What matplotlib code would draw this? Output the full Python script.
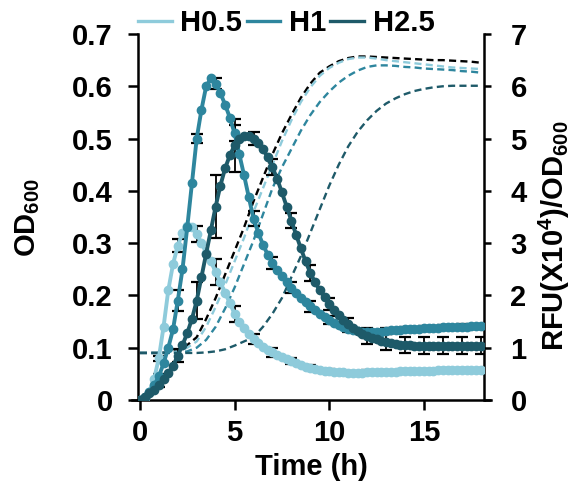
import numpy as np
import matplotlib
matplotlib.use('Agg')
import matplotlib.pyplot as plt
from matplotlib.lines import Line2D

# Fonts: bold Arial-like everywhere, incl. sub/superscripts
plt.rcParams['font.family'] = 'Liberation Sans'
plt.rcParams['font.weight'] = 'bold'
plt.rcParams['axes.labelweight'] = 'bold'
plt.rcParams['mathtext.fontset'] = 'custom'
plt.rcParams['mathtext.rm'] = 'Liberation Sans:bold'
plt.rcParams['mathtext.bf'] = 'Liberation Sans:bold'
plt.rcParams['mathtext.it'] = 'Liberation Sans:bold'
plt.rcParams['mathtext.default'] = 'rm'

# ---- data ----
series = ['H0.5', 'H1', 'H2.5']
colors = ['#8ecbdb', '#2e869e', '#1e5a69']

# RFU(x10^4)/OD600, sampled every 0.25 h from 0 to 18 h (solid lines, right axis)
t_rfu = np.arange(73) * 0.25
rfu_h05 = [0.0, 0.04, 0.15, 0.4,
           0.8, 1.4, 2.1, 2.6,
           2.95, 3.2, 3.33, 3.3,
           3.18, 3.0, 2.82, 2.65,
           2.45, 2.25, 2.05, 1.85,
           1.65, 1.5, 1.37, 1.26,
           1.17, 1.09, 1.02, 0.96,
           0.91, 0.86, 0.82, 0.78,
           0.74, 0.7, 0.67, 0.64,
           0.62, 0.6, 0.58, 0.56,
           0.55, 0.54, 0.53, 0.53,
           0.52, 0.52, 0.52, 0.52,
           0.53, 0.53, 0.53, 0.54,
           0.54, 0.54, 0.54, 0.55,
           0.55, 0.55, 0.55, 0.56,
           0.56, 0.56, 0.56, 0.57,
           0.57, 0.57, 0.57, 0.58,
           0.58, 0.58, 0.58, 0.58,
           0.58]
rfu_h1 = [0.0, 0.06, 0.15, 0.28,
          0.45, 0.7, 1.0, 1.35,
          1.9, 2.5, 3.3, 4.15,
          5.0, 5.55, 6.0, 6.15,
          6.05, 5.87, 5.65, 5.4,
          5.1, 4.7, 4.3, 3.88,
          3.47, 3.2, 2.97, 2.78,
          2.62, 2.49, 2.37, 2.26,
          2.15, 2.05, 1.96, 1.87,
          1.79, 1.72, 1.65, 1.59,
          1.53, 1.48, 1.43, 1.39,
          1.36, 1.34, 1.32, 1.31,
          1.3, 1.3, 1.3, 1.31,
          1.32, 1.33, 1.33, 1.34,
          1.35, 1.35, 1.36, 1.36,
          1.37, 1.37, 1.38, 1.38,
          1.39, 1.39, 1.39, 1.4,
          1.4, 1.4, 1.41, 1.41,
          1.41]
rfu_h25 = [0.0, 0.06, 0.13, 0.2,
           0.29, 0.4, 0.52, 0.65,
           0.85, 1.05, 1.28, 1.55,
           1.9, 2.35, 2.8, 3.25,
           3.7, 4.1, 4.43, 4.68,
           4.87, 4.99, 5.05, 5.05,
           5.0, 4.92, 4.8, 4.64,
           4.45, 4.23, 3.97, 3.7,
           3.43, 3.16, 2.9, 2.65,
           2.43, 2.25, 2.1, 1.97,
           1.84, 1.72, 1.62, 1.53,
           1.45, 1.38, 1.32, 1.27,
           1.23, 1.19, 1.16, 1.13,
           1.11, 1.09, 1.07, 1.06,
           1.05, 1.05, 1.04, 1.04,
           1.04, 1.04, 1.04, 1.04,
           1.04, 1.04, 1.04, 1.04,
           1.04, 1.04, 1.04, 1.04,
           1.04]

# standard deviations at every full hour (0..18 h)
err_h05 = [0, 0.05, 0.12, 0.15, 0.25, 0.15, 0.1, 0.08, 0.06, 0.05,
           0.04, 0.04, 0.04, 0.04, 0.04, 0.04, 0.04, 0.04, 0.04]
err_h1 = [0, 0.05, 0.2, 0.08, 0.1, 0.15, 0.15, 0.12, 0.1, 0.1,
          0.08, 0.06, 0.05, 0.05, 0.05, 0.05, 0.05, 0.05, 0.05]
err_h25 = [0, 0.05, 0.12, 0.35, 0.6, 0.5, 0.13, 0.15, 0.15, 0.15,
           0.12, 0.12, 0.15, 0.16, 0.16, 0.16, 0.16, 0.16, 0.16]

# OD600, sampled every 0.5 h (dashed lines, left axis)
t_od = np.arange(37) * 0.5
od_ctrl = [0.09, 0.09, 0.09, 0.092,
           0.095, 0.105, 0.12, 0.155,
           0.195, 0.24, 0.285, 0.33,
           0.38, 0.425, 0.47, 0.51,
           0.545, 0.578, 0.605, 0.626,
           0.638, 0.648, 0.654, 0.657,
           0.657, 0.656, 0.655, 0.654,
           0.653, 0.652, 0.651, 0.65,
           0.65, 0.649, 0.648, 0.647,
           0.645]
od_h05 = [0.09, 0.09, 0.09, 0.091,
          0.093, 0.1, 0.112, 0.14,
          0.178, 0.22, 0.265, 0.31,
          0.36, 0.405, 0.45, 0.495,
          0.535, 0.57, 0.598, 0.62,
          0.635, 0.645, 0.652, 0.655,
          0.655, 0.653, 0.65, 0.648,
          0.646, 0.644, 0.642, 0.64,
          0.638, 0.636, 0.635, 0.634,
          0.633]
od_h1 = [0.09, 0.09, 0.09, 0.09,
         0.09, 0.093, 0.1, 0.115,
         0.14, 0.175, 0.215, 0.26,
         0.305, 0.355, 0.405, 0.445,
         0.48, 0.515, 0.545, 0.57,
         0.59, 0.607, 0.62, 0.63,
         0.637, 0.64, 0.64, 0.639,
         0.637, 0.636, 0.634, 0.633,
         0.632, 0.631, 0.629, 0.628,
         0.626]
od_h25 = [0.09, 0.09, 0.09, 0.09,
          0.09, 0.09, 0.09, 0.091,
          0.093, 0.097, 0.104, 0.112,
          0.12, 0.14, 0.165, 0.195,
          0.235, 0.275, 0.32, 0.365,
          0.41, 0.45, 0.485, 0.513,
          0.535, 0.553, 0.567, 0.577,
          0.585, 0.591, 0.595, 0.598,
          0.6, 0.601, 0.601, 0.601,
          0.601]

left_ticks = [0, 0.1, 0.2, 0.3, 0.4, 0.5, 0.6, 0.7]
left_labels = ['0', '0.1', '0.2', '0.3', '0.4', '0.5', '0.6', '0.7']
right_ticks = [0, 1, 2, 3, 4, 5, 6, 7]
x_ticks = [0, 5, 10, 15]

# ---- figure ----
fig = plt.figure(figsize=(5.74, 4.92), dpi=100)
ax = fig.add_axes([0.2404, 0.187, 0.6028, 0.7439])
ax2 = ax.twinx()

# growth curves (dashed)
dash = (0, (3, 1.8))
ax.plot(t_od, od_ctrl, color='black', ls=dash, lw=1.7)
for od, c in zip([od_h05, od_h1, od_h25], colors):
    ax.plot(t_od, od, color=c, ls=dash, lw=1.7)

# fluorescence curves (solid with markers) + error bars
t_err = t_rfu[::4]
for rfu, err, c in zip([rfu_h05, rfu_h1, rfu_h25], [err_h05, err_h1, err_h25], colors):
    ax2.errorbar(t_err, np.array(rfu)[::4], yerr=err, fmt='none', ecolor='black',
                 elinewidth=1.3, capsize=4.5, capthick=1.6, zorder=1)
for rfu, c in zip([rfu_h05, rfu_h1, rfu_h25], colors):
    ax2.plot(t_rfu, rfu, color=c, lw=2.8, marker='o', ms=6, mec=c, mfc=c, zorder=3)

# axes
ax.set_xlim(-0.1, 18.17)
ax.set_ylim(0, 0.7)
ax2.set_ylim(0, 7)
ax.set_xticks(x_ticks)
ax.set_yticks(left_ticks)
ax.set_yticklabels(left_labels)
ax2.set_yticks(right_ticks)

for a in (ax, ax2):
    a.spines['top'].set_visible(False)
    for s in a.spines.values():
        s.set_linewidth(1.8)
ax.spines['right'].set_visible(False)
ax2.spines['left'].set_visible(False)
ax2.spines['bottom'].set_visible(False)
ax.spines['bottom'].set_bounds(-0.42, 18.54)

ax.tick_params(axis='y', direction='out', length=7, width=1.8, labelsize=21, pad=11)
ax.tick_params(axis='x', direction='out', length=7, width=1.8, labelsize=21, pad=7)
ax2.tick_params(axis='y', direction='out', length=5, width=1.8, labelsize=21, pad=14)

ax.set_xlabel('Time (h)', fontsize=21)
ax.xaxis.set_label_coords(0.5, -0.145)
ax.set_ylabel('OD$_{600}$', fontsize=21)
ax.yaxis.set_label_coords(-0.277, 0.5)
ax2.set_ylabel('RFU(X10$^{4}$)/OD$_{600}$', fontsize=21)
ax2.yaxis.set_label_coords(1.153, 0.45)

handles = [Line2D([], [], color=c, lw=2.4) for c in colors]
fig.legend(handles, series, loc='center left', bbox_to_anchor=(138 / 574, 1 - 23 / 492),
           ncol=3, frameon=False, fontsize=21, handlelength=1.15, handletextpad=0.3,
           columnspacing=0.15, borderpad=0, borderaxespad=0)

fig.savefig('out.png', dpi=100)
